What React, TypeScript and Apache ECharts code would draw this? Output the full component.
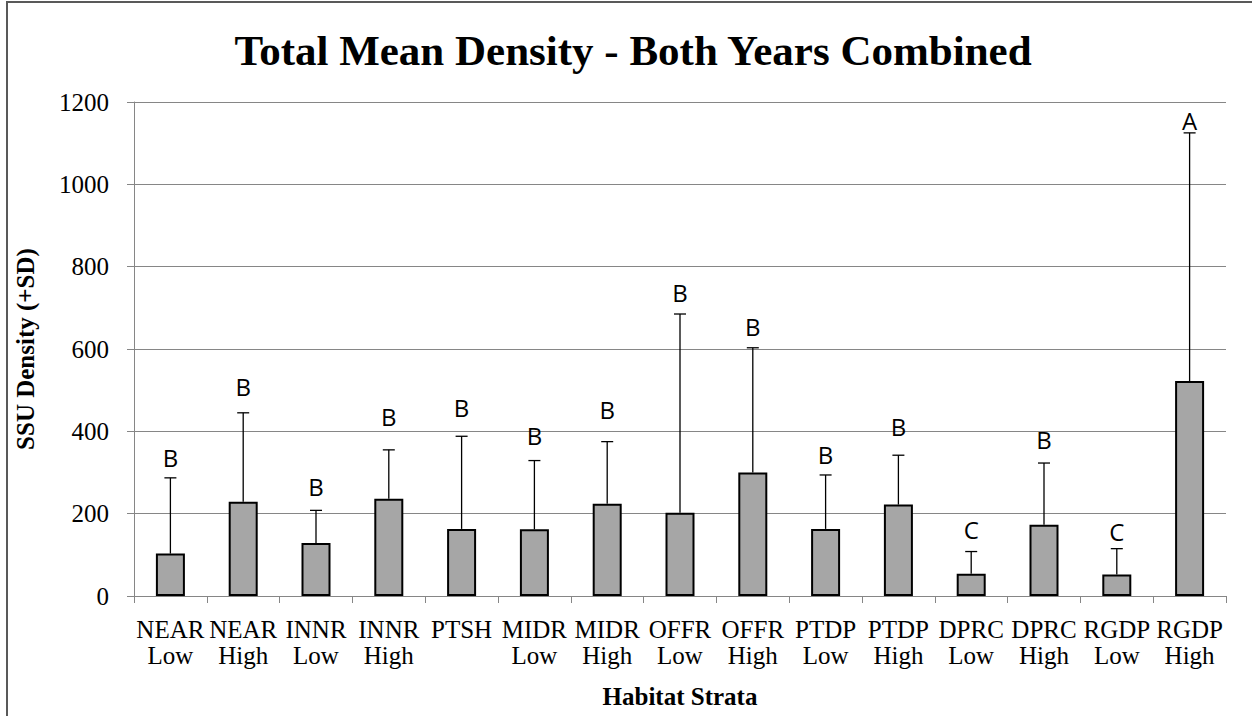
import React, { useEffect, useRef } from "react";
import * as echarts from "echarts";

const categories = [
  "NEAR\nLow", "NEAR\nHigh", "INNR\nLow", "INNR\nHigh", "PTSH",
  "MIDR\nLow", "MIDR\nHigh", "OFFR\nLow", "OFFR\nHigh", "PTDP\nLow",
  "PTDP\nHigh", "DPRC\nLow", "DPRC\nHigh", "RGDP\nLow", "RGDP\nHigh",
];
const meanDensity = [103, 229, 129, 236, 163, 162, 224, 202, 300, 163, 222, 54, 173, 52, 522];
const upperSD = [287, 445, 208, 355, 388, 329, 375, 685, 603, 294, 342, 108, 323, 115, 1125];
const groupLetters = ["B", "B", "B", "B", "B", "B", "B", "B", "B", "B", "B", "C", "B", "C", "A"];
const letterPos = [336, 508, 267, 435, 459, 389, 452, 738, 654, 344, 411, 162, 381, 157, 1154];
const yTicks = { min: 0, max: 1200, interval: 200 };

const SERIF = "Liberation Serif";
const SANS = "Open Sans";

export default function App() {
  const ref = useRef<HTMLDivElement>(null);
  useEffect(() => {
    if (!ref.current) return;
    const chart = echarts.init(ref.current, undefined, { renderer: "svg" });
    const errData = meanDensity.map((m, i) => [i, m, upperSD[i]]);
    const letterData = letterPos.map((v, i) => [i, v]);
    chart.setOption({
      animation: false,
      backgroundColor: "#ffffff",
      grid: { left: 134, right: 26, top: 102, bottom: 120, containLabel: false },
      graphic: [
        {
          type: "rect",
          shape: { x: 7, y: 2, width: 1300, height: 760 },
          style: { fill: "none", stroke: "#595959", lineWidth: 2 },
          silent: true,
        },
        {
          type: "text",
          x: 633,
          y: 50,
          style: {
            text: "Total Mean Density - Both Years Combined",
            fontFamily: SERIF,
            fontWeight: "bold",
            fontSize: 43,
            fill: "#000",
            align: "center",
            verticalAlign: "middle",
          },
        },
      ],
      xAxis: {
        type: "category",
        data: categories,
        name: "Habitat Strata",
        nameLocation: "middle",
        nameGap: 88,
        nameTextStyle: { fontFamily: SERIF, fontWeight: "bold", fontSize: 25, color: "#000" },
        axisLine: { lineStyle: { color: "#868686", width: 1 } },
        axisTick: { show: true, length: 7, interval: 0, lineStyle: { color: "#868686" } },
        axisLabel: {
          interval: 0,
          margin: 20,
          fontFamily: SERIF,
          fontSize: 25,
          lineHeight: 26,
          color: "#000",
        },
        splitLine: { show: false },
      },
      yAxis: {
        type: "value",
        min: yTicks.min,
        max: yTicks.max,
        interval: yTicks.interval,
        name: "SSU Density (+SD)",
        nameLocation: "middle",
        nameGap: 96,
        nameRotate: 90,
        nameTextStyle: { fontFamily: SERIF, fontWeight: "bold", fontSize: 25, color: "#000" },
        axisLine: { show: true, lineStyle: { color: "#868686", width: 1 } },
        axisTick: { show: true, length: 7, lineStyle: { color: "#868686" } },
        axisLabel: {
          margin: 25,
          fontFamily: SERIF,
          fontSize: 25,
          color: "#000",
          formatter: (v: number) => String(v),
        },
        splitLine: { show: true, lineStyle: { color: "#868686", width: 1 } },
      },
      series: [
        {
          type: "bar",
          data: meanDensity,
          barWidth: 29,
          itemStyle: { color: "#a6a6a6", borderColor: "#000", borderWidth: 2 },
          z: 2,
        },
        {
          type: "custom",
          data: errData,
          encode: { x: 0, y: [1, 2] },
          z: 3,
          renderItem: (params: any, api: any) => {
            const base = api.coord([api.value(0), api.value(1)]);
            const top = api.coord([api.value(0), api.value(2)]);
            const cap = 6;
            return {
              type: "group",
              children: [
                {
                  type: "line",
                  shape: { x1: base[0], y1: base[1], x2: top[0], y2: top[1] },
                  style: { stroke: "#000", lineWidth: 1.3 },
                },
                {
                  type: "line",
                  shape: { x1: top[0] - cap, y1: top[1], x2: top[0] + cap, y2: top[1] },
                  style: { stroke: "#000", lineWidth: 1.3 },
                },
              ],
            };
          },
        },
        {
          type: "custom",
          data: letterData,
          encode: { x: 0, y: 1 },
          z: 4,
          renderItem: (params: any, api: any) => {
            const p = api.coord([api.value(0), api.value(1)]);
            return {
              type: "text",
              x: p[0],
              y: p[1],
              style: {
                text: groupLetters[params.dataIndex],
                fontFamily: SANS,
                fontSize: 24,
                fill: "#000",
                align: "center",
                verticalAlign: "middle",
              },
            };
          },
        },
      ],
    });
    return () => chart.dispose();
  }, []);
  return (
    <div
      ref={ref}
      style={{ position: "fixed", left: 0, top: 0, width: 1252, height: 716 }}
    />
  );
}
